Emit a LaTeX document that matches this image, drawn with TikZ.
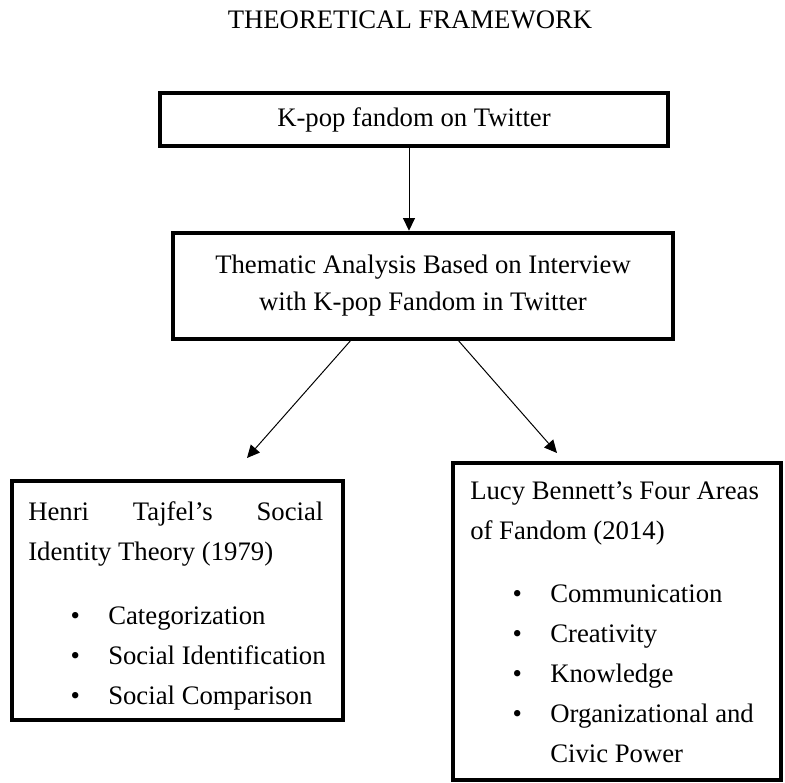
\documentclass[tikz,border=0pt]{standalone}
\usepackage{fontspec}
\setmainfont{Liberation Serif}
\usetikzlibrary{arrows.meta}
\tikzset{
  heading/.style={font=\fontsize{19}{23}\selectfont, inner sep=0pt},
  framebox/.style={draw, line width=3.2pt, inner sep=0pt},
  boxtext/.style={font=\fontsize{19}{26.3}\selectfont, align=center},
  listtext/.style={anchor=north west, inner sep=0pt, align=left, font=\fontsize{19}{28.45}\selectfont},
  arr/.style={-{Triangle[length=9pt,width=8.5pt]}, line width=0.7pt}
}
\newcommand{\bulletitem}[1]{\hspace*{1.06cm}\makebox[0.94cm][l]{\textbullet}#1}
\begin{document}
\begin{tikzpicture}[x=0.025cm,y=-0.025cm]
\useasboundingbox (0,0) rectangle (785,783);
% Title
\node[heading] (title) at (410,20) {THEORETICAL FRAMEWORK};
% Top boxes
\node[framebox, boxtext, minimum width=12.7cm, minimum height=1.325cm] (kpop) at (414,119.5) {K-pop fandom on Twitter};
\node[framebox, boxtext, minimum width=12.5cm, minimum height=2.65cm] (thematic) at (423,286)
  {Thematic Analysis Based on Interview\\with K-pop Fandom in Twitter};
% Theory boxes
\node[framebox, minimum width=8.275cm, minimum height=5.975cm] (tajfel) at (177.5,600.5) {};
\node[listtext] (tajfeltext) at (28,501)
  {\hbox to 7.375cm{Henri\hfill Tajfel's\hfill Social}\\
   Identity Theory (1979)\\[17pt]
   \bulletitem{Categorization}\\
   \bulletitem{Social Identification}\\
   \bulletitem{Social Comparison}};
\node[framebox, minimum width=8.2cm, minimum height=7.925cm] (bennett) at (617,621.5) {};
\node[listtext] (bennetttext) at (470,481)
  {Lucy Bennett's Four Areas\\
   of Fandom (2014)\\[17pt]
   \bulletitem{Communication}\\
   \bulletitem{Creativity}\\
   \bulletitem{Knowledge}\\
   \bulletitem{Organizational and}\\
   \hspace*{2cm}Civic Power};
% Arrows
\coordinate (leftstart) at (352,339);
\coordinate (leftend) at (247,458);
\coordinate (rightstart) at (457,339);
\coordinate (rightend) at (557,453);
\draw[arr] (kpop.south -| 409,0) -- (thematic.north -| 409,0);
\draw[arr] (leftstart) -- (leftend);
\draw[arr] (rightstart) -- (rightend);
\end{tikzpicture}
\end{document}
